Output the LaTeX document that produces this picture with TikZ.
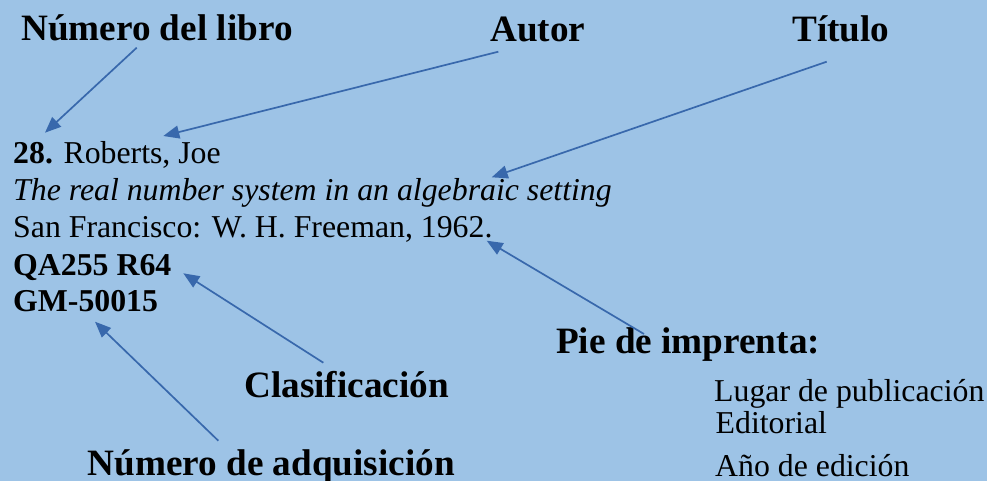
\documentclass[tikz,border=0pt]{standalone}
\usepackage{fontspec}
\setmainfont{Liberation Serif}
\usetikzlibrary{arrows.meta}
\definecolor{bg}{HTML}{9DC3E6}
\definecolor{arr}{RGB}{56,104,172}
\begin{document}
\begin{tikzpicture}[x=1pt,y=-1pt,
  head/.style={font=\fontsize{37.2}{40}\selectfont\bfseries, anchor=base west, inner sep=0pt},
  body/.style={font=\fontsize{31.8}{37}\selectfont, anchor=base west, inner sep=0pt},
  side/.style={font=\fontsize{31.8}{37}\selectfont, anchor=base west, inner sep=0pt},
  arrowline/.style={draw=arr, line width=1.7pt, -{Triangle[length=16pt,width=13pt]}}]
\path[use as bounding box, fill=bg] (0,0) rectangle (987,481);
\begin{scope}
\clip (0,0) rectangle (987,481);
% headings
\node[head] (numlib) at (21,40.7) {Número del libro};
\node[head] (autor) at (490,41.7) {Autor};
\node[head] (titulo) at (792,41.7) {Título};
\node[head] (pie) at (556,353) {Pie de imprenta:};
\node[head] (clasif) at (244,397) {Clasificación};
\node[head, text depth=0pt] (adq) at (87.5,475) {Número de adquisición};
% record
\node[body] (l1) at (13,163.5) {\textbf{28.} Roberts, Joe};
\node[body] (l2) at (13,200.7) {\itshape The real number system in an algebraic setting};
\node[body] (l3) at (13,237.7) {San Francisco: W. H. Freeman, 1962.};
\node[body] (l4) at (13,275) {\bfseries QA255 R64};
\node[body] (l5) at (13,311.7) {\bfseries GM-50015};
% imprint parts
\node[side] (lugar) at (714,401) {Lugar de publicación};
\node[side] (edit) at (715.5,433) {Editorial};
\node[side, text depth=0pt] (anio) at (715,476.5) {Año de edición};
\end{scope}
% arrow ends
\coordinate (a1s) at (136.7,47.7);
\coordinate (a1e) at (45,132.7);
\coordinate (a2s) at (498.3,51.7);
\coordinate (a2e) at (163.3,136);
\coordinate (a3s) at (826.7,61.7);
\coordinate (a3e) at (491.7,177.3);
\coordinate (a4s) at (644,334);
\coordinate (a4e) at (486.7,240.7);
\coordinate (a5s) at (323.3,362.7);
\coordinate (a5e) at (183.3,273.3);
\coordinate (a6s) at (218.3,440.7);
\coordinate (a6e) at (95,321.7);
\draw[arrowline] (a1s) -- (a1e);
\draw[arrowline] (a2s) -- (a2e);
\draw[arrowline] (a3s) -- (a3e);
\draw[arrowline] (a4s) -- (a4e);
\draw[arrowline] (a5s) -- (a5e);
\draw[arrowline] (a6s) -- (a6e);
\end{tikzpicture}
\end{document}
